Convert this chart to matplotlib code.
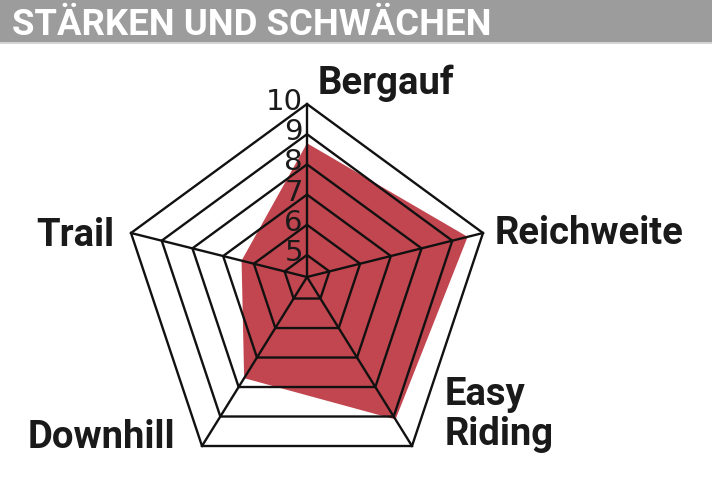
import matplotlib
matplotlib.use('Agg')
import matplotlib.pyplot as plt
from matplotlib.patches import Polygon, Rectangle
import numpy as np

# data
title = 'STÄRKEN UND SCHWÄCHEN'
categories = ['Bergauf', 'Reichweite', 'Easy\nRiding', 'Downhill', 'Trail']
scores = [8.7, 9.5, 9.1, 7.7, 6.4]
ring_levels = [5, 6, 7, 8, 9, 10]
ring_labels = ['5', '6', '7', '8', '9', '10']

# radial scale: value at the centre and at the outer ring
v_center = 4.27
v_max = 10

# spoke end points in pixels from the centre (y up); the drawing is a stretched pentagon
spoke_dirs = np.array([[0, 173], [176, 44], [105, -169], [-105, -169], [-176, 44]], float)


def to_xy(values):
    f = (np.asarray(values, float) - v_center) / (v_max - v_center)
    return spoke_dirs * f[:, None]


fig = plt.figure(figsize=(7.12, 4.91), dpi=100)
ax = fig.add_axes([0, 0, 1, 1])
ax.set_xlim(-307, 405)
ax.set_ylim(-214, 277)
ax.axis('off')

# header bar
fig.add_artist(Rectangle((0, 1 - 42 / 491), 1, 42 / 491, transform=fig.transFigure,
                         facecolor='#9c9c9c', edgecolor='none'))
fig.add_artist(Rectangle((0, 1 - 44 / 491), 1, 2 / 491, transform=fig.transFigure,
                         facecolor='#d4d4d4', edgecolor='none'))
fig.text(12 / 712, 1 - 35 / 491, title, color='white', fontsize=26.3,
         fontfamily='Roboto', fontweight='bold', ha='left', va='baseline')

# score area
ax.add_patch(Polygon(to_xy(scores), closed=True, facecolor='#c1464f',
                     edgecolor='none', zorder=1))

# rings and spokes
for v in ring_levels:
    pts = to_xy([v] * len(categories))
    ax.add_patch(Polygon(pts, closed=True, fill=False, edgecolor='#111111',
                         linewidth=1.7, joinstyle='miter', zorder=2))
outer = to_xy([v_max] * len(categories))
for x, y in outer:
    ax.plot([0, x], [0, y], color='#111111', linewidth=1.7, zorder=2)

# ring numbers along the top spoke
for v, lab in zip(ring_levels, ring_labels):
    y = to_xy([v] * len(categories))[0][1]
    ax.text(-4, y - 6, lab, ha='right', va='baseline', fontsize=21,
            fontfamily='Liberation Sans Narrow', color='#1a1a1a', zorder=3)

# axis labels (baseline of the last line)
label_pos = [(11, 183, 'left'), (188, 33, 'left'), (138, -168, 'left'),
             (-132, -171, 'right'), (-193, 31, 'right')]
for name, (x, y, ha) in zip(categories, label_pos):
    ax.text(x, y, name, ha=ha, va='baseline', fontsize=27.5, fontfamily='Roboto',
            fontweight='bold', color='#1a1a1a', linespacing=1.09)

fig.savefig('out.png', dpi=100)
